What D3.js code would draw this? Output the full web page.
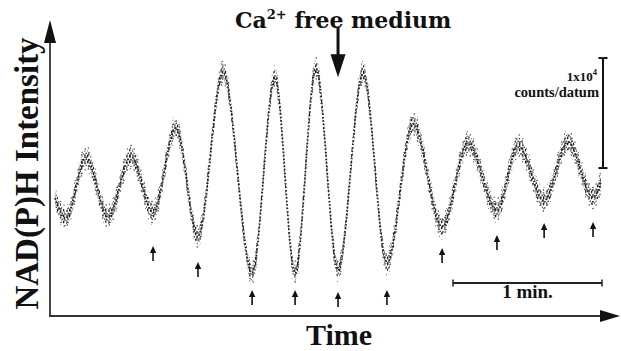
<!DOCTYPE html>
<html>
<head>
<meta charset="utf-8">
<script src="https://cdn.jsdelivr.net/npm/d3@7"></script>
<style>
  html, body { margin: 0; padding: 0; background: #fff; }
  svg { display: block; }
</style>
</head>
<body>
<svg id="chart"></svg>
<script>
// trace: extrema of the oscillation (time in s, counts)
const times  = [2.0, 6.4, 14.5, 23.4, 32.6, 41.5, 50.7, 59.6, 69.7, 81.4, 90.6, 98.7,
                107.1, 116.0, 126.1, 135.7, 146.2, 157.9, 168.3, 180.0, 188.5, 199.0,
                208.6, 218.7, 221.9];
const counts = [10700, 8900, 14400, 9000, 14500, 9400, 17100, 7200, 22200, 3900, 21700, 3900,
                22500, 4200, 22100, 4800, 17500, 8100, 15700, 9600, 15500, 10500,
                15800, 10800, 12200];

// vertical spread of the points around the trace (counts)
const noiseInner = 720;
const noiseOuter = 1150;

// small arrows under the troughs
const arrowTimes  = [41.5, 59.6, 81.4, 98.7, 116.0, 135.7, 157.9, 180.0, 199.0, 218.7];
const arrowCounts = [6360, 4900, 2360, 2360, 2180, 2360, 6180, 7360, 8450, 8550];

// Ca2+ free medium marker
const caTime = 116.0;
const caCounts = [26300, 21700];

// scale bars
const minBarStart = 162.3, minBarLength = 60;   // seconds
const countBarTime = 222.7, countBarStart = 13450, countBarLength = 10000;

const width = 621;
const height = 351;

const x = d3.scaleLinear().domain([0, 230]).range([50, 621.1]);
const y = d3.scaleLinear().domain([0, 27000]).range([316, 19]);

const svg = d3.select("#chart")
    .attr("width", width)
    .attr("height", height);

svg.append("rect").attr("width", width).attr("height", height).attr("fill", "#fff");

// stipple patterns for the point cloud
const defs = svg.append("defs");
const dense = defs.append("pattern")
    .attr("id", "dense")
    .attr("patternUnits", "userSpaceOnUse")
    .attr("width", 6).attr("height", 6);
[[0.8, 1.0], [3.6, 0.6], [2.2, 3.2], [5.0, 3.9], [0.9, 5.1], [3.7, 5.4]].forEach(p => {
  dense.append("circle").attr("cx", p[0]).attr("cy", p[1]).attr("r", 0.8).attr("fill", "#222");
});
const sparse = defs.append("pattern")
    .attr("id", "sparse")
    .attr("patternUnits", "userSpaceOnUse")
    .attr("width", 7).attr("height", 7);
[[1.2, 2.0], [5.0, 5.4], [4.4, 1.1]].forEach(p => {
  sparse.append("circle").attr("cx", p[0]).attr("cy", p[1]).attr("r", 0.75).attr("fill", "#333");
});

const trace = times.map((t, i) => ({ t: t, c: counts[i] }));

const band = n => d3.area()
    .curve(d3.curveMonotoneX)
    .x(d => x(d.t))
    .y0(d => y(d.c - n))
    .y1(d => y(d.c + n));

svg.append("path")
    .datum(trace)
    .attr("d", band(noiseOuter))
    .attr("fill", "url(#sparse)");

svg.append("path")
    .datum(trace)
    .attr("d", band(noiseInner))
    .attr("fill", "url(#dense)");

svg.append("path")
    .datum(trace)
    .attr("d", d3.line().curve(d3.curveMonotoneX).x(d => x(d.t)).y(d => y(d.c)))
    .attr("fill", "none")
    .attr("stroke", "#222")
    .attr("stroke-width", 1.8)
    .attr("stroke-dasharray", "1.5 2");

// axes with arrow heads
const axisColor = "#333";
svg.append("line")
    .attr("x1", x(0)).attr("y1", y(0))
    .attr("x2", x(0)).attr("y2", 40)
    .attr("stroke", axisColor).attr("stroke-width", 1.8);
svg.append("path")
    .attr("d", `M${x(0)},20 L${x(0) - 6},43 L${x(0) + 6},43 Z`)
    .attr("fill", "#111");
svg.append("line")
    .attr("x1", x(0) - 1).attr("y1", y(0))
    .attr("x2", 602).attr("y2", y(0))
    .attr("stroke", axisColor).attr("stroke-width", 1.8);
svg.append("path")
    .attr("d", `M620,${y(0)} L600,${y(0) - 6} L600,${y(0) + 6} Z`)
    .attr("fill", "#111");

// trough arrows
svg.append("g")
  .selectAll("g")
  .data(arrowTimes.map((t, i) => ({ t: t, c: arrowCounts[i] })))
  .join("g")
    .attr("transform", d => `translate(${x(d.t)},${y(d.c)})`)
    .call(g => g.append("line")
        .attr("x1", 0).attr("y1", 5).attr("x2", 0).attr("y2", 15)
        .attr("stroke", "#111").attr("stroke-width", 1.6))
    .call(g => g.append("path")
        .attr("d", "M0,0 L-3.2,7 L3.2,7 Z")
        .attr("fill", "#111"));

// Ca2+ arrow
const caX = x(caTime);
svg.append("line")
    .attr("x1", caX).attr("y1", y(caCounts[0]))
    .attr("x2", caX).attr("y2", y(caCounts[1]) - 18)
    .attr("stroke", "#111").attr("stroke-width", 3);
svg.append("path")
    .attr("d", `M${caX},${y(caCounts[1])} L${caX - 7.5},${y(caCounts[1]) - 23} L${caX + 7.5},${y(caCounts[1]) - 23} Z`)
    .attr("fill", "#111");

const title = svg.append("text")
    .attr("x", 235).attr("y", 28)
    .attr("font-family", "DejaVu Serif")
    .attr("font-weight", "bold")
    .attr("font-size", 22)
    .attr("fill", "#111");
title.append("tspan").text("Ca");
title.append("tspan").attr("dy", -9).attr("font-size", 13).text("2+");
title.append("tspan").attr("dy", 9).text(" free medium");

// count scale bar
const cbX = x(countBarTime);
svg.append("line")
    .attr("x1", cbX).attr("y1", y(countBarStart))
    .attr("x2", cbX).attr("y2", y(countBarStart + countBarLength))
    .attr("stroke", "#111").attr("stroke-width", 2);
[countBarStart, countBarStart + countBarLength].forEach(c => {
  svg.append("line")
      .attr("x1", cbX - 4.5).attr("x2", cbX + 4.5)
      .attr("y1", y(c)).attr("y2", y(c))
      .attr("stroke", "#111").attr("stroke-width", 2);
});
const unit = svg.append("text")
    .attr("x", 597).attr("y", 81)
    .attr("text-anchor", "end")
    .attr("font-family", "Liberation Serif")
    .attr("font-weight", "bold")
    .attr("font-size", 13)
    .attr("fill", "#111");
unit.append("tspan").text("1x10");
unit.append("tspan").attr("dy", -6).attr("font-size", 8.5).text("4");
svg.append("text")
    .attr("x", 599).attr("y", 96.5)
    .attr("text-anchor", "end")
    .attr("font-family", "Liberation Serif")
    .attr("font-weight", "bold")
    .attr("font-size", 14.5)
    .attr("fill", "#111")
    .text("counts/datum");

// time scale bar
const mbY = 283;
svg.append("line")
    .attr("x1", x(minBarStart)).attr("x2", x(minBarStart + minBarLength))
    .attr("y1", mbY).attr("y2", mbY)
    .attr("stroke", "#222").attr("stroke-width", 2);
[minBarStart, minBarStart + minBarLength].forEach(t => {
  svg.append("line")
      .attr("x1", x(t)).attr("x2", x(t))
      .attr("y1", mbY - 3.5).attr("y2", mbY + 3.5)
      .attr("stroke", "#222").attr("stroke-width", 1.5);
});
svg.append("text")
    .attr("x", x(minBarStart + minBarLength / 2))
    .attr("y", 298)
    .attr("text-anchor", "middle")
    .attr("font-family", "Liberation Serif")
    .attr("font-weight", "bold")
    .attr("font-size", 19)
    .attr("fill", "#111")
    .text("1 min.");

// axis titles
svg.append("text")
    .attr("transform", "translate(38,173.5) rotate(-90)")
    .attr("text-anchor", "middle")
    .attr("font-family", "Liberation Serif")
    .attr("font-weight", "bold")
    .attr("font-size", 33)
    .attr("fill", "#111")
    .text("NAD(P)H Intensity");

svg.append("text")
    .attr("x", 339).attr("y", 345)
    .attr("text-anchor", "middle")
    .attr("font-family", "Liberation Serif")
    .attr("font-weight", "bold")
    .attr("font-size", 30)
    .attr("fill", "#111")
    .text("Time");
</script>
</body>
</html>
